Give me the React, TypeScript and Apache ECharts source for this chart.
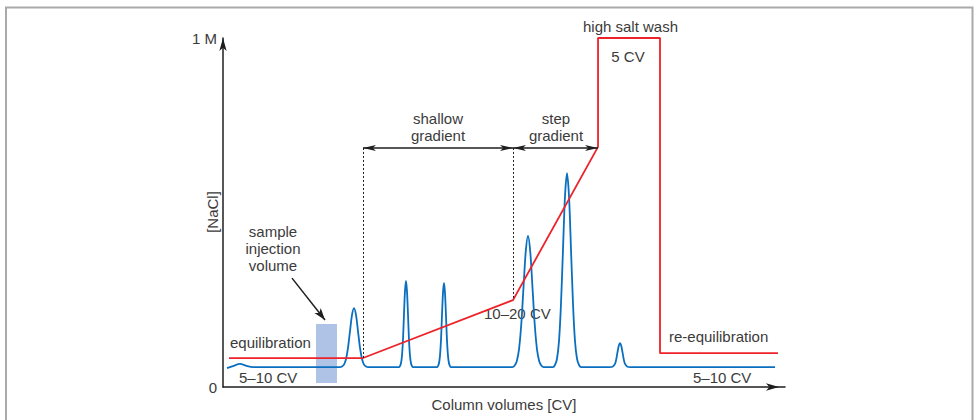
import React, { useEffect, useRef } from "react";
import * as echarts from "echarts";

// NaCl concentration program (x: relative column volumes 0-100, y: fraction of 1 M)
const saltX = [1.07, 24.91, 51.6, 66.73, 66.73, 77.76, 77.76, 98.75];
const saltY = [0.083, 0.083, 0.249, 0.688, 1.0, 1.0, 0.097, 0.097];

// UV absorbance trace (same relative scale)
const absX = [
  0.71, 1.78, 3.02, 4.27, 5.34,
  20.81, 21.17, 21.53, 21.89, 22.24, 22.6, 22.95, 23.31, 23.67, 24.02, 24.38, 24.73, 25.09, 25.45, 25.81,
  31.31, 31.49, 31.67, 31.85, 32.03, 32.2, 32.38, 32.56, 32.74, 32.92, 33.09, 33.27, 33.45, 33.63, 33.81,
  38.07, 38.25, 38.43, 38.61, 38.79, 38.96, 39.14, 39.32, 39.5, 39.68, 39.85, 40.03, 40.21, 40.39, 40.57,
  51.47, 51.87, 52.27, 52.67, 53.07, 53.47, 53.87, 54.27, 54.67, 55.07, 55.47, 55.87, 56.27, 56.67, 57.07,
  58.71, 59.07, 59.43, 59.79, 60.14, 60.5, 60.85, 61.21, 61.57, 61.92, 62.28, 62.63, 62.99, 63.35, 63.71,
  68.8, 69.31, 69.75, 69.97, 70.19, 70.42, 70.64, 70.86, 71.09, 71.31, 71.53, 71.97, 72.5,
  98.22,
];
const absY = [
  0.054, 0.06, 0.066, 0.06, 0.057,
  0.057, 0.059, 0.064, 0.08, 0.112, 0.16, 0.206, 0.226, 0.206, 0.16, 0.112, 0.08, 0.064, 0.059, 0.057,
  0.057, 0.06, 0.068, 0.09, 0.137, 0.207, 0.274, 0.304, 0.274, 0.207, 0.137, 0.09, 0.068, 0.06, 0.057,
  0.057, 0.06, 0.068, 0.09, 0.135, 0.203, 0.269, 0.298, 0.269, 0.203, 0.135, 0.09, 0.068, 0.06, 0.057,
  0.057, 0.061, 0.074, 0.108, 0.179, 0.285, 0.388, 0.433, 0.388, 0.285, 0.179, 0.108, 0.074, 0.061, 0.057,
  0.057, 0.063, 0.081, 0.132, 0.238, 0.395, 0.546, 0.613, 0.546, 0.395, 0.238, 0.132, 0.081, 0.063, 0.057,
  0.057, 0.058, 0.066, 0.079, 0.099, 0.118, 0.126, 0.118, 0.099, 0.079, 0.066, 0.058, 0.057,
  0.057,
];

const yTickLabels = ["0", "1 M"];
const injectionX = [16.55, 20.28];
const injectionY = [0.0115, 0.1805];
const segmentX = [24.91, 51.6, 66.73]; // shallow start, step start, step end
const bracketY = 0.685;
const injectionArrowX = [12.28, 18.15];
const injectionArrowY = [0.312, 0.192];

const FONT = "'Liberation Sans', Arial, sans-serif";
const TEXT = "#3b3b3b";
const INK = "#1e1e1e";

export default function App() {
  const ref = useRef<HTMLDivElement>(null);

  useEffect(() => {
    if (!ref.current) return;
    const chart = echarts.init(ref.current, undefined, { renderer: "svg" });

    const salt = saltX.map((x, i) => [x, saltY[i]]);
    const abs = absX.map((x, i) => [x, absY[i]]);

    const txt = (text: string, x: number, y: number, align = "center", rotation = 0) => ({
      type: "text",
      x,
      y,
      rotation,
      silent: true,
      style: {
        text,
        fill: TEXT,
        fontSize: 15,
        fontFamily: FONT,
        align,
        verticalAlign: "middle",
        lineHeight: 17,
      },
    });

    const option: any = {
      animation: false,
      backgroundColor: "#ffffff",
      grid: { left: 223, top: 38, width: 562, height: 349, containLabel: false },
      xAxis: {
        type: "value",
        min: 0,
        max: 100,
        name: "Column volumes [CV]",
        nameLocation: "middle",
        nameGap: 10,
        nameTextStyle: { color: TEXT, fontSize: 15, fontFamily: FONT, verticalAlign: "top" },
        axisLine: {
          show: true,
          symbol: ["none", "arrow"],
          symbolSize: [5.5, 13],
          symbolOffset: [0, -6],
          lineStyle: { color: INK, width: 1.5 },
        },
        axisTick: { show: false },
        axisLabel: { show: false },
        splitLine: { show: false },
      },
      yAxis: {
        type: "value",
        min: 0,
        max: 1,
        interval: 1,
        axisLine: {
          show: true,
          symbol: ["none", "arrow"],
          symbolSize: [5.5, 13],
          lineStyle: { color: INK, width: 1.5 },
        },
        axisTick: { show: false },
        axisLabel: {
          margin: 6,
          color: TEXT,
          fontSize: 15,
          fontFamily: FONT,
          formatter: (v: number) => (v === 0 ? yTickLabels[0] : yTickLabels[1]),
        },
        splitLine: { show: false },
      },
      series: [
        {
          name: "absorbance",
          type: "line",
          data: abs,
          showSymbol: false,
          symbol: "none",
          smooth: 0.3,
          clip: false,
          z: 3,
          lineStyle: { color: "#0a6fbf", width: 1.8 },
          markArea: {
            silent: true,
            z: 1,
            itemStyle: { color: "#aec3e6" },
            data: [[{ coord: [injectionX[0], injectionY[0]] }, { coord: [injectionX[1], injectionY[1]] }]],
          },
          markLine: {
            silent: true,
            symbol: ["arrow", "arrow"],
            symbolSize: [4.5, 13],
            label: { show: false },
            lineStyle: { color: INK, width: 1.5, type: "solid" },
            data: [
              [{ coord: [segmentX[0], bracketY] }, { coord: [segmentX[1], bracketY] }],
              [{ coord: [segmentX[1], bracketY] }, { coord: [segmentX[2], bracketY] }],
              [
                { coord: [injectionArrowX[0], injectionArrowY[0]], symbol: "none" },
                { coord: [injectionArrowX[1], injectionArrowY[1]], symbol: "arrow", symbolSize: [6, 12] },
              ],
            ],
          },
        },
        {
          name: "NaCl",
          type: "line",
          data: salt,
          showSymbol: false,
          symbol: "none",
          clip: false,
          z: 4,
          lineStyle: { color: "#ee2229", width: 1.8 },
          markLine: {
            silent: true,
            symbol: ["none", "none"],
            label: { show: false },
            lineStyle: { color: INK, width: 1, type: [2, 2] },
            data: [
              [{ coord: [segmentX[0], bracketY] }, { coord: [segmentX[0], saltY[1]] }],
              [{ coord: [segmentX[1], bracketY] }, { coord: [segmentX[1], saltY[2]] }],
            ],
          },
        },
      ],
      graphic: [
        {
          type: "rect",
          silent: true,
          shape: { x: 6, y: 7.5, width: 966.5, height: 430 },
          style: { fill: "none", stroke: "#aaaaaa", lineWidth: 2 },
        },
        txt("[NaCl]", 212, 212, "center", Math.PI / 2),
        txt("shallow\ngradient", 438, 126.5),
        txt("step\ngradient", 556, 126.5),
        txt("sample\ninjection\nvolume", 273, 248),
        txt("equilibration", 230, 342, "left"),
        txt("5\u201310 CV", 239, 377, "left"),
        txt("10\u201320 CV", 484, 313, "left"),
        txt("high salt wash", 630.5, 26),
        txt("5 CV", 628, 56),
        txt("re-equilibration", 669, 336, "left"),
        txt("5\u201310 CV", 693, 377, "left"),
      ],
    };

    chart.setOption(option);
    return () => chart.dispose();
  }, []);

  return (
    <div
      ref={ref}
      style={{ position: "fixed", left: 0, top: 0, width: 974, height: 420, background: "#fff" }}
    />
  );
}
